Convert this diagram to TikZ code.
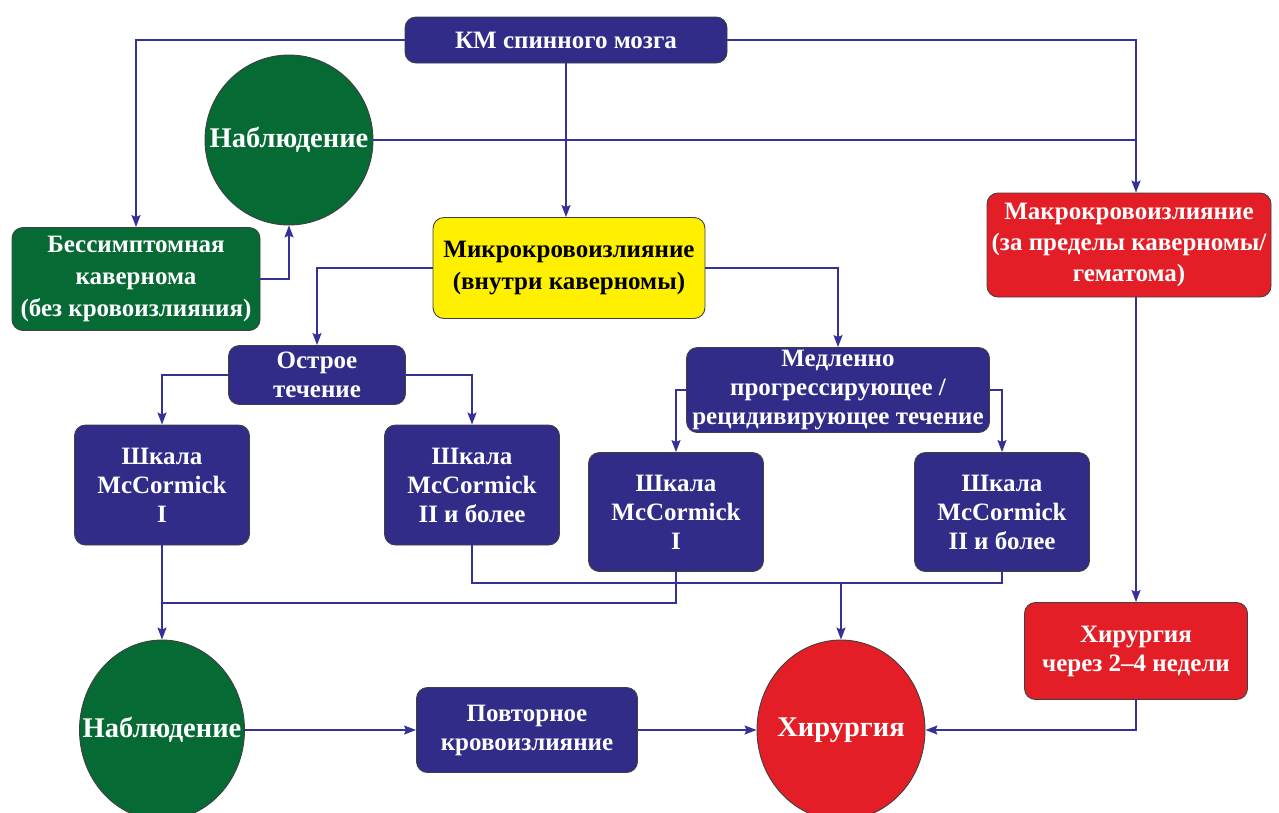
\documentclass[tikz,border=0pt]{standalone}
\usepackage{fontspec}
\setmainfont{Liberation Serif}
\usetikzlibrary{shapes.geometric,arrows.meta,calc}
\definecolor{navy}{RGB}{49,44,136}
\definecolor{lin}{RGB}{52,50,150}
\definecolor{grn}{RGB}{6,106,52}
\definecolor{rd}{RGB}{228,30,38}
\definecolor{yl}{RGB}{255,240,0}
\begin{document}
\begin{tikzpicture}[x=1pt,y=-1pt,
  every node/.style={font=\fontsize{25}{29}\selectfont\bfseries, align=center, inner sep=0pt},
  wide/.style={font=\fontsize{25}{32}\selectfont\bfseries},
  big/.style={font=\fontsize{28.5}{32}\selectfont\bfseries, text=white},
  bx/.style={rectangle, rounded corners=11pt, draw=black!75, line width=0.9pt, fill=#1},
  nbox/.style={bx=navy, text=white},
  gbox/.style={bx=grn, text=white},
  rbox/.style={bx=rd, text=white},
  ybox/.style={bx=yl, text=black},
  circ/.style={ellipse, draw=black!75, line width=0.9pt, fill=#1},
  ln/.style={draw=lin, line width=1.6pt},
  arr/.style={ln, -{Stealth[length=12pt,width=9pt,inset=2pt]}}]
\useasboundingbox (0,0) rectangle (1279,812);
% nodes
\node[nbox, minimum width=322pt, minimum height=46pt] (km) at (566,40) {КМ спинного мозга};
\node[circ=grn, minimum width=168pt, minimum height=170pt, label={[big]center:Наблюдение}] (nab1) at (289,140) {};
\node[gbox, wide, minimum width=248pt, minimum height=103pt] (bess) at (136,279) {Бессимптомная\\кавернома\\(без кровоизлияния)};
\node[ybox, wide, minimum width=272pt, minimum height=101pt] (mikro) at (569,268) {Микрокровоизлияние\\(внутри каверномы)};
\node[rbox, font=\fontsize{25}{31}\selectfont\bfseries, minimum width=284pt, minimum height=104pt] (makro) at (1129,245) {Макрокровоизлияние\\(за пределы каверномы/\\гематома)};
\node[nbox, minimum width=177pt, minimum height=59pt] (ostr) at (317,375) {Острое\\течение};
\node[nbox, minimum width=303pt, minimum height=85pt] (medl) at (838,390) {Медленно\\прогрессирующее /\\рецидивирующее течение};
\node[nbox, minimum width=175pt, minimum height=120pt] (mc1) at (162,485) {Шкала\\McCormick\\I};
\node[nbox, minimum width=175pt, minimum height=120pt] (mc2) at (472,485) {Шкала\\McCormick\\II и более};
\node[nbox, minimum width=175pt, minimum height=119pt] (mc3) at (676,512) {Шкала\\McCormick\\I};
\node[nbox, minimum width=175pt, minimum height=119pt] (mc4) at (1002,512) {Шкала\\McCormick\\II и более};
\node[rbox, minimum width=223pt, minimum height=97pt] (hir2) at (1136,651) {Хирургия\\через 2–4 недели};
\node[circ=grn, minimum width=165pt, minimum height=180pt, label={[big]center:Наблюдение}] (nab2) at (162,730) {};
\node[nbox, minimum width=221pt, minimum height=85pt] (povt) at (527,730) {Повторное\\кровоизлияние};
\node[circ=rd, minimum width=168pt, minimum height=180pt, label={[big]center:Хирургия}] (hir) at (841,730) {};
% junction coordinates
\coordinate (j1) at (841,583);
\coordinate (j2) at (162,603);
% connectors
\draw[arr] (km.west) -| (bess.north);
\draw[arr] (km.east) -| (makro.north -| hir2.north);
\draw[ln] (nab1.east) -- (nab1.east -| hir2.north);
\draw[arr] (km.south) -- (km.south |- mikro.north);
\draw[arr] (bess.east) -| (nab1.south);
\draw[arr] (mikro.west) -| (ostr.north);
\draw[arr] (mikro.east) -| (medl.north);
\draw[arr] (ostr.west) -| (mc1.north);
\draw[arr] (ostr.east) -| (mc2.north);
\draw[arr] (medl.west) -| (mc3.north);
\draw[arr] (medl.east) -| (mc4.north);
\draw[ln] (mc2.south) |- (j1) -| (mc4.south);
\draw[arr] (j1) -- (hir.north);
\draw[ln] (mc3.south) |- (j2);
\draw[arr] (mc1.south) -- (nab2.north);
\draw[arr] (nab2.east) -- (povt.west);
\draw[arr] (povt.east) -- (hir.west);
\draw[arr] (makro.south -| hir2.north) -- (hir2.north);
\draw[arr] (hir2.south) |- (hir.east);
\end{tikzpicture}
\end{document}
